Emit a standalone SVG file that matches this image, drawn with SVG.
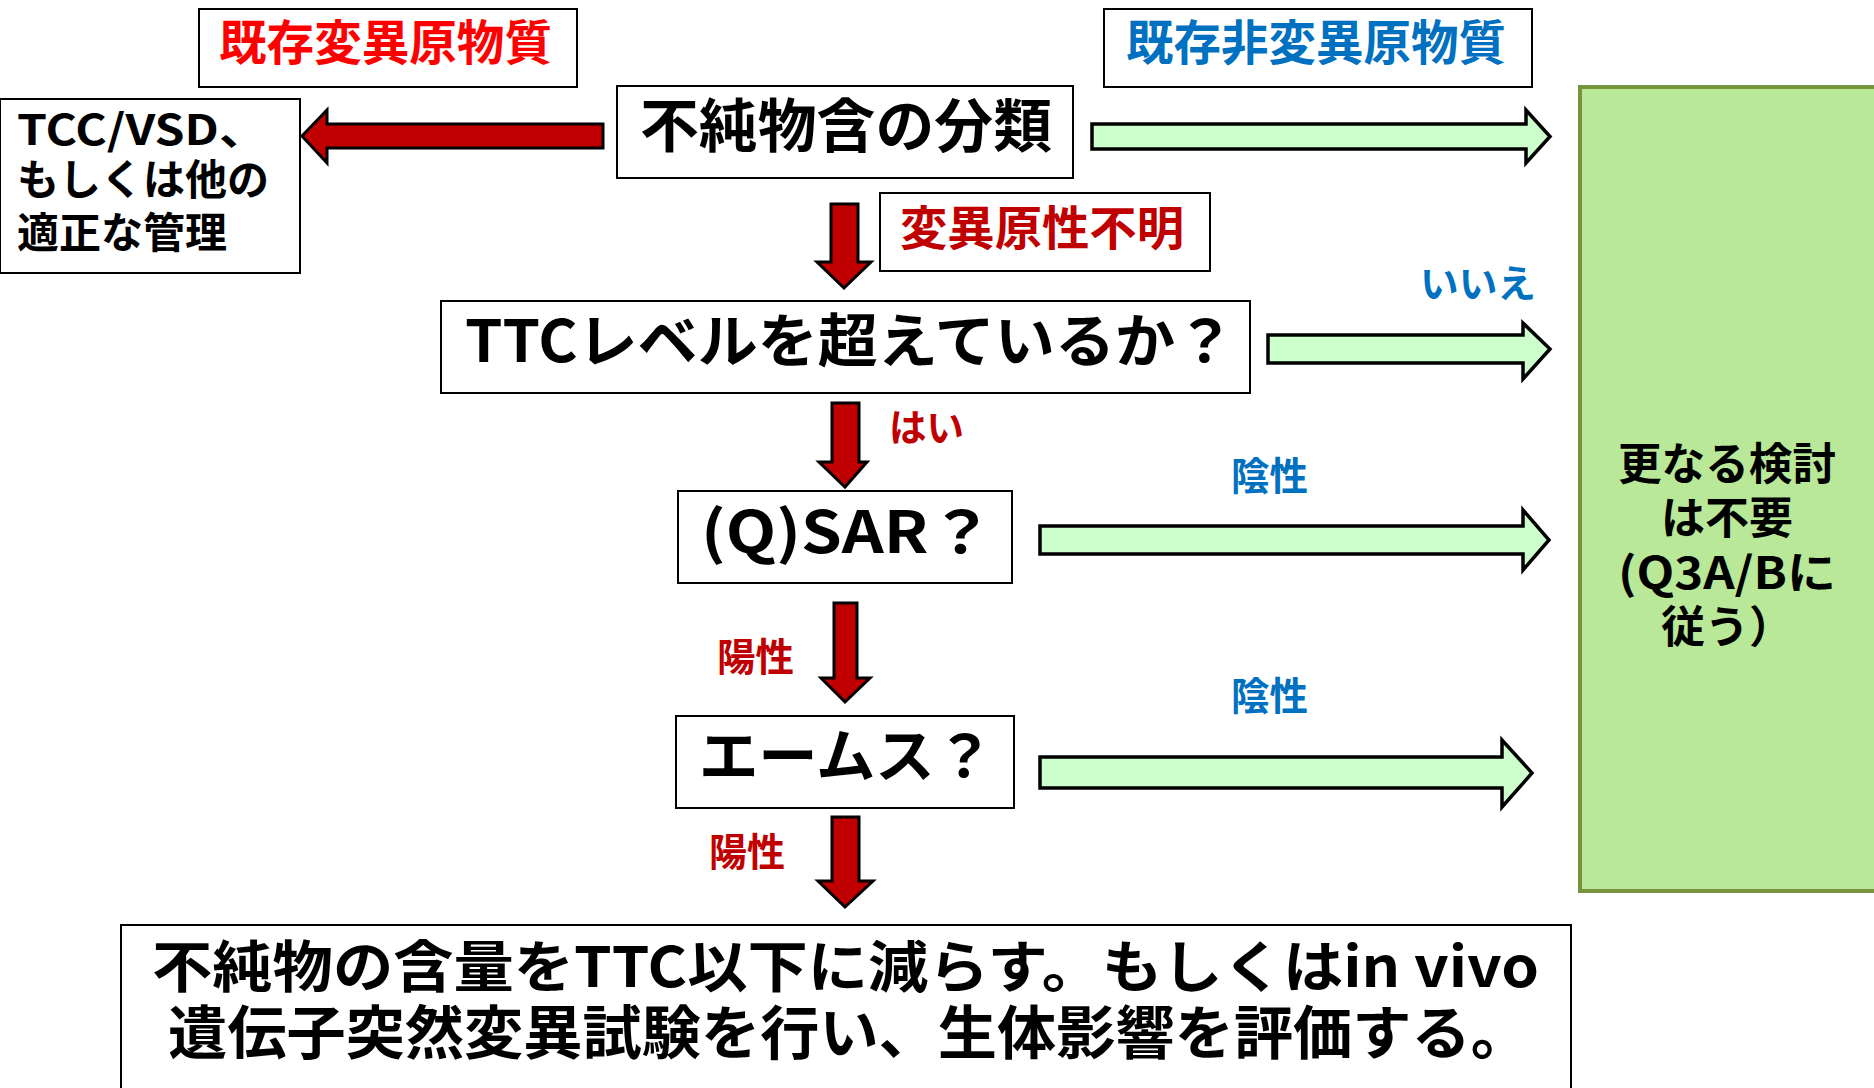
<svg xmlns="http://www.w3.org/2000/svg" width="1874" height="1088" viewBox="0 0 1874 1088">
<style>
text{font-family:"Noto Sans CJK JP","Noto Sans",sans-serif;font-weight:700}
.box{fill:#fff;stroke:#000;stroke-width:2}
.redA{fill:#C00000;stroke:#000;stroke-width:3;stroke-linejoin:miter}
.grnA{fill:#CCFFCC;stroke:#000;stroke-width:3.5;stroke-linejoin:miter}
.blk{fill:#000}
.red{fill:#C00000}
.blu{fill:#0070C0}
</style>
<rect width="1874" height="1088" fill="#fff"/>

<g id="result-box">
<rect x="1580" y="87" width="300" height="804" fill="#B9E899" stroke="#77933C" stroke-width="4"/>
<text class="blk" font-size="44" text-anchor="middle" x="1727" y="480" textLength="218" lengthAdjust="spacingAndGlyphs">更なる検討</text>
<text class="blk" font-size="44" text-anchor="middle" x="1727" y="534">は不要</text>
<text class="blk" font-size="44" text-anchor="middle" x="1727" y="589" textLength="218" lengthAdjust="spacingAndGlyphs">(Q3A/Bに</text>
<text class="blk" font-size="44" text-anchor="middle" x="1727" y="643">従う）</text>
</g>

<g id="label-known-mutagen">
<rect class="box" x="199" y="9" width="378" height="78"/>
<text font-size="48" fill="#FF0000" x="219" y="60" textLength="333" lengthAdjust="spacingAndGlyphs">既存変異原物質</text>
</g>

<g id="label-known-nonmutagen">
<rect class="box" x="1104" y="9" width="428" height="78"/>
<text class="blu" font-size="48" x="1126" y="60" textLength="380" lengthAdjust="spacingAndGlyphs">既存非変異原物質</text>
</g>

<g id="node-tcc">
<rect class="box" x="0" y="99" width="300" height="174"/>
<text class="blk" font-size="42" x="17" y="145" textLength="250" lengthAdjust="spacingAndGlyphs">TCC/VSD、</text>
<text class="blk" font-size="42" x="17" y="195" textLength="252" lengthAdjust="spacingAndGlyphs">もしくは他の</text>
<text class="blk" font-size="42" x="17" y="248" textLength="210" lengthAdjust="spacingAndGlyphs">適正な管理</text>
</g>

<g id="node-classify">
<rect class="box" x="617" y="86" width="456" height="92"/>
<text class="blk" font-size="58" x="640" y="147" textLength="412" lengthAdjust="spacingAndGlyphs">不純物含の分類</text>
</g>

<g id="label-unknown">
<rect class="box" x="880" y="193" width="330" height="78"/>
<text class="red" font-size="47" x="900" y="245" textLength="284" lengthAdjust="spacingAndGlyphs">変異原性不明</text>
</g>

<g id="node-ttc">
<rect class="box" x="441" y="301" width="809" height="92"/>
<text class="blk" font-size="58" x="465" y="362" textLength="770" lengthAdjust="spacingAndGlyphs">TTCレベルを超えているか？</text>
</g>

<g id="node-qsar">
<rect class="box" x="678" y="491" width="334" height="92"/>
<text class="blk" font-size="58" x="701" y="553" textLength="293" lengthAdjust="spacingAndGlyphs">(Q)SAR？</text>
</g>

<g id="node-ames">
<rect class="box" x="676" y="716" width="338" height="92"/>
<text class="blk" font-size="58" x="699" y="777" textLength="295" lengthAdjust="spacingAndGlyphs">エームス？</text>
</g>

<g id="node-bottom">
<rect class="box" x="121" y="925" width="1450" height="170"/>
<text class="blk" font-size="56" x="152" y="987" textLength="1387" lengthAdjust="spacingAndGlyphs">不純物の含量をTTC以下に減らす。もしくはin vivo</text>
<text class="blk" font-size="58" x="168" y="1054" textLength="1362" lengthAdjust="spacingAndGlyphs">遺伝子突然変異試験を行い、生体影響を評価する。</text>
</g>

<g id="connectors">
<path class="redA" d="M603,124 L327,124 L327,110 L302,136 L327,163 L327,148 L603,148 Z"/>
<path class="grnA" d="M1092,124 L1526,124 L1526,110 L1550,136.5 L1526,163 L1526,149 L1092,149 Z"/>
<path class="grnA" d="M1268,335 L1523,335 L1523,323 L1550,349 L1523,379 L1523,363 L1268,363 Z"/>
<path class="grnA" d="M1040,526 L1523,526 L1523,510 L1549,540 L1523,570 L1523,554 L1040,554 Z"/>
<path class="grnA" d="M1040,757 L1502,757 L1502,740 L1532,773 L1502,807 L1502,788 L1040,788 Z"/>
<path class="redA" d="M831,204 L858,204 L858,262 L871,262 L844,288 L817,262 L831,262 Z"/>
<path class="redA" d="M832,403 L859,403 L859,462 L867,462 L845,487 L819,462 L832,462 Z"/>
<path class="redA" d="M834,603 L857,603 L857,678 L870,678 L845,702 L821,678 L834,678 Z"/>
<path class="redA" d="M832,817 L859,817 L859,881 L873,881 L845,907 L818,881 L832,881 Z"/>
<text class="blu" font-size="38" x="1420" y="297" textLength="116" lengthAdjust="spacingAndGlyphs">いいえ</text>
<text class="red" font-size="38" x="889" y="441" textLength="75" lengthAdjust="spacingAndGlyphs">はい</text>
<text class="blu" font-size="39" x="1231" y="490" textLength="77" lengthAdjust="spacingAndGlyphs">陰性</text>
<text class="red" font-size="39" x="717" y="671" textLength="77" lengthAdjust="spacingAndGlyphs">陽性</text>
<text class="blu" font-size="39" x="1231" y="710" textLength="77" lengthAdjust="spacingAndGlyphs">陰性</text>
<text class="red" font-size="39" x="709" y="866" textLength="76" lengthAdjust="spacingAndGlyphs">陽性</text>
</g>
</svg>
